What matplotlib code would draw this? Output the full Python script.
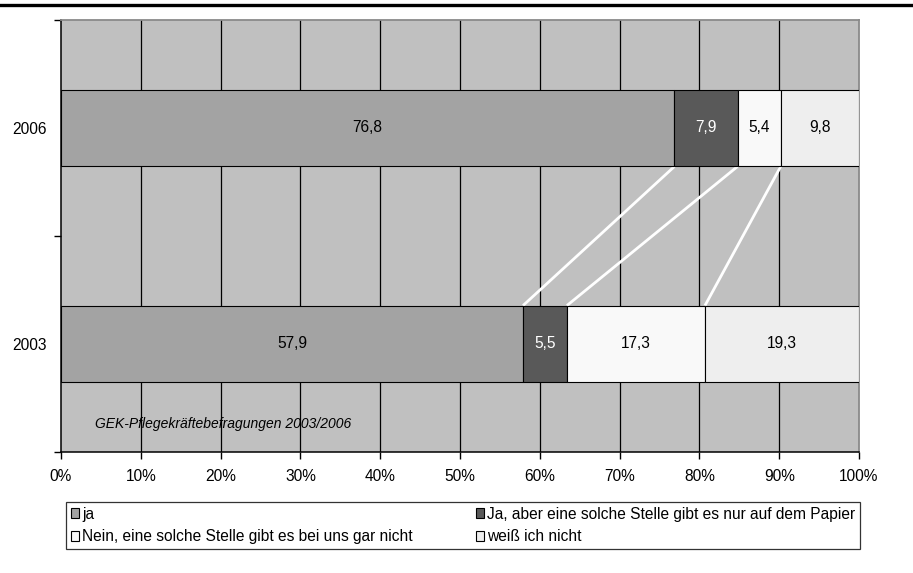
import matplotlib.pyplot as plt
import matplotlib.lines as mlines
import numpy as np

plt.rcParams["font.family"] = ["Liberation Sans", "DejaVu Sans"]

years = ["2003", "2006"]
categories = [
    "ja",
    "Ja, aber eine solche Stelle gibt es nur auf dem Papier",
    "Nein, eine solche Stelle gibt es bei uns gar nicht",
    "weiß ich nicht",
]
values_2003 = [57.9, 5.5, 17.3, 19.3]
values_2006 = [76.8, 7.9, 5.4, 9.8]
colors = ["#a3a3a3", "#595959", "#f9f9f9", "#eeeeee"]
label_colors = ["black", "white", "black", "black"]
source_note = "GEK-Pflegekräftebefragungen 2003/2006"

FS = 11.2
BAR_H = 0.356


def main():
    fig = plt.figure(figsize=(9.13, 5.73), dpi=100)
    ax = fig.add_axes([61 / 913, 1 - 452 / 573, 798 / 913, 432 / 573])
    ax.set_facecolor("#c0c0c0")

    data = np.array([values_2003, values_2006])
    # 100% gestapelt: auf Zeilensumme normieren
    shares = data / data.sum(axis=1, keepdims=True) * 100
    ypos = np.arange(len(years))

    left = np.zeros(len(years))
    for i, cat in enumerate(categories):
        ax.barh(ypos, shares[:, i], left=left, height=BAR_H, color=colors[i],
                edgecolor="black", linewidth=0.8, label=cat, zorder=3)
        for j in range(len(years)):
            ax.text(left[j] + shares[j, i] / 2, ypos[j],
                    f"{data[j, i]:.1f}".replace(".", ","),
                    ha="center", va="center", fontsize=FS,
                    color=label_colors[i], zorder=5)
        left = left + shares[:, i]

    # Reihenverbindungslinien
    cum = np.cumsum(shares, axis=1)
    for i in range(len(categories) - 1):
        ax.plot([cum[1, i], cum[0, i]], [1 - BAR_H / 2, 0 + BAR_H / 2],
                color="white", linewidth=2.0, zorder=2.5, solid_capstyle="butt")

    ax.set_xlim(0, 100)
    ax.set_ylim(-0.5, 1.5)
    ax.set_xticks(np.arange(0, 101, 10))
    ax.set_xticklabels([f"{v}%" for v in range(0, 101, 10)], fontsize=FS)
    ax.set_yticks(ypos)
    ax.set_yticklabels(years, fontsize=FS)
    ax.set_yticks([-0.5, 0.5, 1.5], minor=True)
    ax.tick_params(axis="y", which="major", length=0, pad=10)
    ax.tick_params(axis="y", which="minor", length=5, width=1, color="black")
    ax.tick_params(axis="x", length=5, width=1, color="black", pad=7)

    for x in range(10, 100, 10):
        ax.axvline(x, color="black", linewidth=0.9, zorder=1)

    ax.spines["left"].set_color("black")
    ax.spines["bottom"].set_color("black")
    ax.spines["left"].set_linewidth(1.1)
    ax.spines["bottom"].set_linewidth(1.1)
    ax.spines["top"].set_color("#8a8a8a")
    ax.spines["right"].set_color("#8a8a8a")
    ax.spines["top"].set_linewidth(1.3)
    ax.spines["right"].set_linewidth(1.3)

    ax.text(4.3, -0.37, source_note, style="italic", fontsize=10,
            ha="left", va="center", zorder=5)

    # Linie oben
    fig.add_artist(mlines.Line2D([0, 1], [1 - 5 / 573, 1 - 5 / 573],
                                 color="black", linewidth=2.4))

    handles, labels = ax.get_legend_handles_labels()
    order = [0, 2, 1, 3]
    leg = fig.legend([handles[k] for k in order], [labels[k] for k in order],
                     loc="lower left", ncol=2, mode="expand",
                     bbox_to_anchor=(66 / 913, 1 - 549 / 573, 794 / 913, 48 / 573),
                     fontsize=FS, frameon=True, fancybox=False,
                     edgecolor="black", handlelength=0.55, handleheight=0.55,
                     handletextpad=0.2, labelspacing=0.5, borderpad=0.3,
                     borderaxespad=0)
    leg.get_frame().set_linewidth(0.9)

    plt.savefig("out.png", dpi=100)
    plt.close()


if __name__ == "__main__":
    main()
